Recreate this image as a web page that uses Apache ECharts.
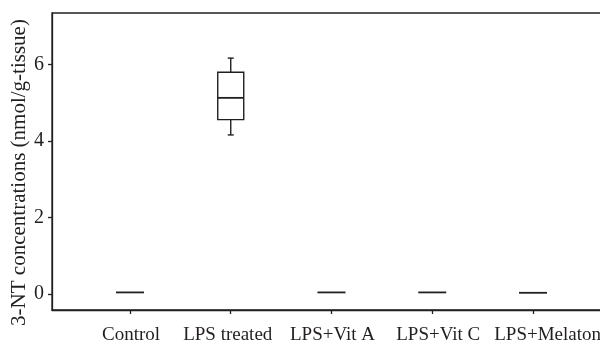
<!DOCTYPE html>
<html>
<head>
<meta charset="utf-8">
<script src="https://cdn.jsdelivr.net/npm/echarts@6/dist/echarts.min.js"></script>
<style>
  html, body { margin: 0; padding: 0; background: #fff; }
  #chart { width: 600px; height: 343px; }
</style>
</head>
<body>
<div id="chart"></div>
<script>
// groups and box stats
var groups = ["Control", "LPS treated", "LPS+Vit A", "LPS+Vit C", "LPS+Melatonin"];
var mins    = [0.04, 4.16, 0.04, 0.04, 0.03];
var q1s     = [0.04, 4.56, 0.04, 0.04, 0.03];
var medians = [0.04, 5.13, 0.04, 0.04, 0.03];
var q3s     = [0.04, 5.80, 0.04, 0.04, 0.03];
var maxs    = [0.04, 6.17, 0.04, 0.04, 0.03];
var yTicks = [0, 2, 4, 6];
var xTicks = [1, 2, 3, 4, 5];

var ink = '#231f20';
var font = 'Liberation Serif';

// the labels in the figure sit a bit off their ticks
var labelStyles = {
    g0: { padding: [0, 0, 0, 2] },
    g1: { padding: [0, 6, 0, 0] },
    g2: { padding: [0, 0, 0, 2] },
    g3: { padding: [0, 0, 0, 12] },
    g4: { padding: [0, 0, 0, 44] }
};

var boxData = groups.map(function(g, i) {
    return [i + 1, mins[i], q1s[i], medians[i], q3s[i], maxs[i]];
});

function renderBox(params, api) {
    var x = api.value(0);
    var pMin = api.coord([x, api.value(1)]);
    var pQ1 = api.coord([x, api.value(2)]);
    var pMed = api.coord([x, api.value(3)]);
    var pQ3 = api.coord([x, api.value(4)]);
    var pMax = api.coord([x, api.value(5)]);
    var half = 13, cap = 3;
    var cx = pMed[0];
    var style = { stroke: ink, lineWidth: 1.4, fill: null };
    var children = [];
    if (Math.abs(pQ1[1] - pQ3[1]) > 0.5) {
        children.push({ type: 'rect', shape: { x: cx - half, y: pQ3[1], width: half * 2, height: pQ1[1] - pQ3[1] }, style: style });
        children.push({ type: 'line', shape: { x1: cx, y1: pQ3[1], x2: cx, y2: pMax[1] }, style: style });
        children.push({ type: 'line', shape: { x1: cx, y1: pQ1[1], x2: cx, y2: pMin[1] }, style: style });
        children.push({ type: 'line', shape: { x1: cx - cap, y1: pMax[1], x2: cx + cap, y2: pMax[1] }, style: style });
        children.push({ type: 'line', shape: { x1: cx - cap, y1: pMin[1], x2: cx + cap, y2: pMin[1] }, style: style });
        children.push({ type: 'line', shape: { x1: cx - half, y1: pMed[1], x2: cx + half, y2: pMed[1] }, style: { stroke: ink, lineWidth: 1.8 } });
    } else {
        children.push({ type: 'line', shape: { x1: cx - half - 1, y1: pMed[1], x2: cx + half + 1, y2: pMed[1] }, style: { stroke: ink, lineWidth: 1.8 } });
    }
    return { type: 'group', children: children };
}

var myChart = echarts.init(document.getElementById('chart'));

var option = {
    animation: false,
    grid: {
        left: 52,
        right: -11,
        top: 13,
        bottom: 33,
        show: true,
        borderColor: ink,
        borderWidth: 1.3,
        containLabel: false,
        outerBoundsMode: 'none'
    },
    xAxis: {
        type: 'value',
        min: 0.226,
        max: 5.774,
        splitLine: { show: false },
        axisLine: { show: true, onZero: false, lineStyle: { color: ink, width: 1.3 } },
        axisTick: { show: true, length: 4, customValues: xTicks, lineStyle: { color: ink, width: 1.3 } },
        axisLabel: {
            customValues: xTicks,
            margin: 16,
            hideOverlap: false,
            showMinLabel: true,
            showMaxLabel: true,
            color: ink,
            fontFamily: font,
            fontSize: 19,
            rich: labelStyles,
            formatter: function(v) {
                var i = Math.round(v) - 1;
                return groups[i] ? '{g' + i + '|' + groups[i] + '}' : '';
            }
        }
    },
    yAxis: {
        type: 'value',
        min: -0.42,
        max: 7.35,
        name: '3-NT concentrations (nmol/g-tissue)',
        nameLocation: 'middle',
        nameGap: 22,
        nameMoveOverlap: false,
        nameTextStyle: { color: ink, fontFamily: font, fontSize: 21, padding: [0, 22, 0, 0] },
        splitLine: { show: false },
        axisLine: { show: true, onZero: false, lineStyle: { color: ink, width: 1.3 } },
        axisTick: { show: true, length: 4, customValues: yTicks, lineStyle: { color: ink, width: 1.3 } },
        axisLabel: {
            customValues: yTicks,
            margin: 8,
            color: ink,
            fontFamily: font,
            fontSize: 20
        }
    },
    series: [{
        type: 'custom',
        renderItem: renderBox,
        encode: { x: 0, y: [1, 2, 3, 4, 5] },
        data: boxData
    }]
};

myChart.setOption(option);
</script>
</body>
</html>
